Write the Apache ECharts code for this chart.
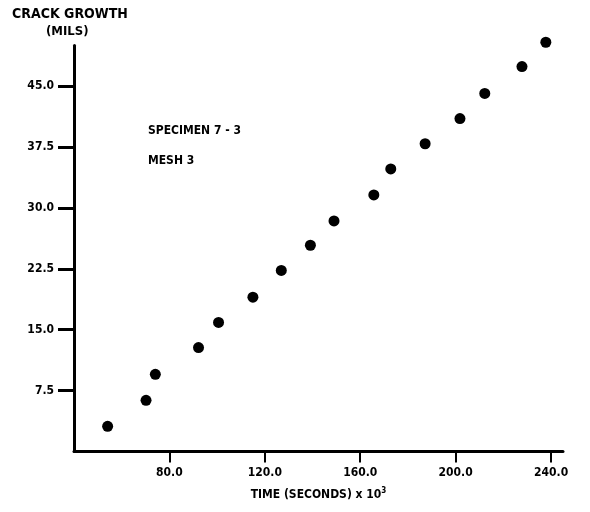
<!DOCTYPE html>
<html>
<head>
<meta charset="utf-8">
<script src="https://cdn.jsdelivr.net/npm/echarts@6/dist/echarts.min.js"></script>
<style>html,body{margin:0;padding:0;background:#fff;}#c{width:590px;height:512px;}</style>
</head>
<body>
<div id="c"></div>
<script>
// Data
const timeValues = [54.1, 70.2, 74.1, 92.2, 100.6, 115.0, 126.9, 139.1, 149.0, 165.7, 172.8, 187.2, 201.8, 212.2, 227.8, 237.8];
const crackValues = [3.1, 6.3, 9.5, 12.8, 15.9, 19.0, 22.3, 25.4, 28.4, 31.6, 34.8, 37.9, 41.0, 44.1, 47.4, 50.4];
const xTicks = [80, 120, 160, 200, 240];
const yTicks = [7.5, 15, 22.5, 30, 37.5, 45];

const FONT = '"DejaVu Sans Condensed", "Liberation Sans Narrow", "DejaVu Sans", sans-serif';
const points = timeValues.map((t, i) => [t, crackValues[i]]);

const chart = echarts.init(document.getElementById('c'));
chart.setOption({
  backgroundColor: '#fff',
  animation: false,
  grid: { left: 74, right: 27, top: 45.5, bottom: 60.5 },
  xAxis: {
    type: 'value', min: 40, max: 245,
    axisLine: { show: true, lineStyle: { color: '#000', width: 3 } },
    axisTick: { show: true, customValues: xTicks, length: 11, lineStyle: { color: '#000', width: 2 } },
    axisLabel: { customValues: xTicks, formatter: v => v.toFixed(1), color: '#000', fontFamily: FONT, fontWeight: 'bold', fontSize: 12, margin: 15 },
    splitLine: { show: false },
    name: 'TIME (SECONDS) x 10{s|3}',
    nameLocation: 'middle', nameGap: 35,
    nameTextStyle: { color: '#000', fontFamily: FONT, fontWeight: 'bold', fontSize: 12,
      rich: { s: { fontSize: 8, fontWeight: 'bold', fontFamily: FONT, verticalAlign: 'top', padding: [0, 0, 8, 0], color: '#000' } } }
  },
  yAxis: {
    type: 'value', min: 0, max: 50,
    axisLine: { show: true, lineStyle: { color: '#000', width: 3 } },
    axisTick: { show: true, customValues: yTicks, length: 16, lineStyle: { color: '#000', width: 3 } },
    axisLabel: { customValues: yTicks, formatter: v => v.toFixed(1), color: '#000', fontFamily: FONT, fontWeight: 'bold', fontSize: 12, margin: 20 },
    splitLine: { show: false }
  },
  series: [{
    type: 'scatter',
    data: points,
    symbol: 'circle',
    symbolSize: 11,
    clip: false,
    itemStyle: { color: '#000', opacity: 1 }
  }],
  graphic: [
    { type: 'text', left: 12, top: 7, style: { text: 'CRACK GROWTH', fill: '#000', font: 'bold 14px ' + FONT } },
    { type: 'text', left: 46, top: 25, style: { text: '(MILS)', fill: '#000', font: 'bold 13px ' + FONT } },
    { type: 'text', left: 148, top: 125, style: { text: 'SPECIMEN 7 - 3', fill: '#000', font: 'bold 12px ' + FONT } },
    { type: 'text', left: 148, top: 155, style: { text: 'MESH 3', fill: '#000', font: 'bold 12px ' + FONT } }
  ]
});
</script>
</body>
</html>
